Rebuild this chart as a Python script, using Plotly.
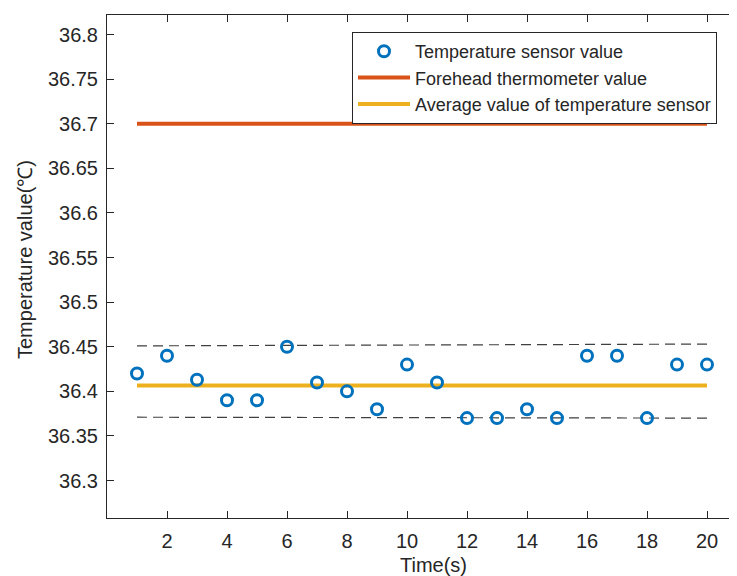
import plotly.graph_objects as go

time_s = list(range(1, 21))
sensor_values = [36.42, 36.44, 36.413, 36.39, 36.39, 36.45, 36.41, 36.40, 36.38, 36.43,
                 36.41, 36.37, 36.37, 36.38, 36.37, 36.44, 36.44, 36.37, 36.43, 36.43]
forehead_value = 36.7
line_x = [1, 20]
upper_bound = [36.451, 36.453]
lower_bound = [36.371, 36.370]
y_tick_vals = [36.3, 36.35, 36.4, 36.45, 36.5, 36.55, 36.6, 36.65, 36.7, 36.75, 36.8]
y_tick_text = ["36.3", "36.35", "36.4", "36.45", "36.5", "36.55", "36.6", "36.65", "36.7", "36.75", "36.8"]
x_tick_vals = [2, 4, 6, 8, 10, 12, 14, 16, 18, 20]

avg_value = sum(sensor_values) / len(sensor_values)

BLUE = "#0072BD"
ORANGE = "#D95319"
YELLOW = "#EDB120"
AX = "#262626"
FONT = "Liberation Sans, Arial, sans-serif"

fig = go.Figure()
fig.add_trace(go.Scatter(x=line_x, y=upper_bound, mode="lines", showlegend=False,
                         line=dict(color="#404040", width=1.2, dash="10px,6px")))
fig.add_trace(go.Scatter(x=line_x, y=lower_bound, mode="lines", showlegend=False,
                         line=dict(color="#404040", width=1.2, dash="10px,6px")))
fig.add_trace(go.Scatter(x=line_x, y=[forehead_value, forehead_value], mode="lines",
                         name="Forehead thermometer value",
                         line=dict(color=ORANGE, width=4), legendrank=2))
fig.add_trace(go.Scatter(x=line_x, y=[avg_value, avg_value], mode="lines",
                         name="Average value of temperature sensor",
                         line=dict(color=YELLOW, width=4), legendrank=3))
fig.add_trace(go.Scatter(x=time_s, y=sensor_values, mode="markers",
                         name="Temperature sensor value",
                         marker=dict(symbol="circle-open", size=11, color=BLUE,
                                     line=dict(width=3, color=BLUE)),
                         legendrank=1))

# page body has an 8px margin, so the figure is drawn 8px right/down
fig.update_layout(
    width=729, height=568,
    margin=dict(l=99, r=0, t=7, b=58),
    paper_bgcolor="white", plot_bgcolor="white",
    font=dict(family=FONT, color=AX, size=20),
    showlegend=True,
    legend=dict(x=(352 - 107) / 630, y=(518 - 32) / 503, xanchor="left", yanchor="top",
                bgcolor="white", bordercolor=AX, borderwidth=1,
                font=dict(size=18, color=AX), tracegroupgap=0,
                itemwidth=52),
    xaxis=dict(range=[0, 21], tickvals=x_tick_vals, ticks="inside", ticklen=7,
               tickcolor=AX, showline=True, linecolor=AX, linewidth=1,
               mirror="ticks", showgrid=False, zeroline=False,
               ticklabelstandoff=5),
    yaxis=dict(range=[36.258, 36.822], tickvals=y_tick_vals, ticktext=y_tick_text,
               ticks="inside", ticklen=7, tickcolor=AX, showline=True, linecolor=AX,
               linewidth=1, showgrid=False, zeroline=False, ticklabelstandoff=4),
    annotations=[
        dict(text="Time(s)", x=10.87, xref="x", y=(518 - 565) / 503, yref="paper",
             xanchor="center", yanchor="middle", showarrow=False,
             font=dict(size=20, color=AX)),
        dict(text="Temperature value(℃)", x=(25 - 107) / 630, xref="paper",
             y=(518 - 260) / 503, yref="paper", textangle=-90,
             xanchor="center", yanchor="middle", showarrow=False,
             font=dict(size=20, color=AX)),
    ],
)

fig.write_html("out.html")
